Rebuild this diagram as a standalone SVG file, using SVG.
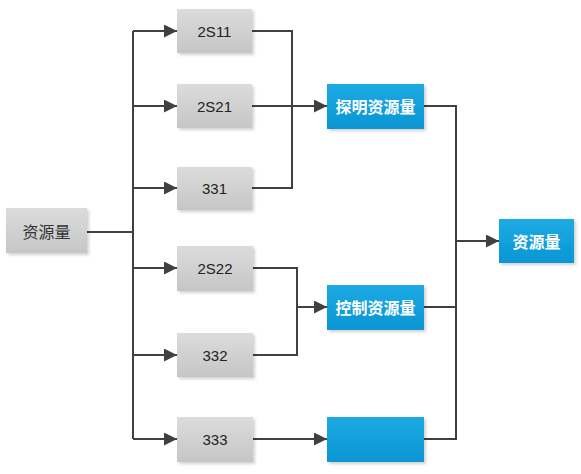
<svg xmlns="http://www.w3.org/2000/svg" width="581" height="474" viewBox="0 0 581 474">
<defs>
<linearGradient id="g" x1="0" y1="0" x2="0" y2="1"><stop offset="0" stop-color="#dcdcdc"/><stop offset="1" stop-color="#c6c6c6"/></linearGradient>
<linearGradient id="b" x1="0" y1="0" x2="0" y2="1"><stop offset="0" stop-color="#1eaae3"/><stop offset="1" stop-color="#0896d4"/></linearGradient>
<filter id="s" x="-10%" y="-10%" width="130%" height="130%"><feDropShadow dx="2" dy="2" stdDeviation="1.5" flood-color="#000" flood-opacity="0.18"/></filter>
<marker id="a" viewBox="0 0 10 10" refX="10" refY="5" markerWidth="6.5" markerHeight="6.5" orient="auto" markerUnits="strokeWidth"><path d="M0,0 L10,5 L0,10 z" fill="#404040"/></marker>
</defs>
<style>
.gray{fill:url(#g);filter:url(#s)}
.blue{fill:url(#b);filter:url(#s)}
.t{font-family:"Liberation Sans","Noto Sans",sans-serif;font-size:15px;fill:#222;text-anchor:middle;dominant-baseline:central}
.c{font-family:"Noto Sans CJK SC",sans-serif;font-size:16px;text-anchor:middle;dominant-baseline:central}
.cw{fill:#fff;font-weight:bold}
.cg{fill:#333}
.l{fill:none;stroke:#404040;stroke-width:2}
.ar{marker-end:url(#a)}
</style>
<rect width="581" height="474" fill="#fff"/>
<g id="connectors">
<path class="l" d="M87,232 H133 M133,31 V439"/>
<path class="l ar" d="M133,31 H177"/>
<path class="l ar" d="M133,106 H177"/>
<path class="l ar" d="M133,188 H177"/>
<path class="l ar" d="M133,268 H177"/>
<path class="l ar" d="M133,355 H177"/>
<path class="l ar" d="M133,439 H177"/>
<path class="l" d="M252,31 H292 V188 H252"/>
<path class="l ar" d="M252,106 H327"/>
<path class="l" d="M253,268 H297 V355 H253"/>
<path class="l ar" d="M297,307 H327"/>
<path class="l ar" d="M253,439 H327"/>
<path class="l" d="M424,106 H456 V439 H424 M424,307 H456"/>
<path class="l ar" d="M456,241 H499"/>
</g>
<g id="n_src"><rect class="gray" x="6" y="208" width="81" height="45"/><text class="c cg" x="46.5" y="231">资源量</text></g>
<g id="n_2S11"><rect class="gray" x="177" y="9" width="75" height="44"/><text class="t" x="214.5" y="31">2S11</text></g>
<g id="n_2S21"><rect class="gray" x="177" y="84" width="75" height="44"/><text class="t" x="214.5" y="106">2S21</text></g>
<g id="n_331"><rect class="gray" x="177" y="167" width="75" height="43"/><text class="t" x="214.5" y="188">331</text></g>
<g id="n_2S22"><rect class="gray" x="177" y="246" width="76" height="45"/><text class="t" x="215" y="268">2S22</text></g>
<g id="n_332"><rect class="gray" x="177" y="333" width="76" height="44"/><text class="t" x="215" y="355">332</text></g>
<g id="n_333"><rect class="gray" x="177" y="417" width="76" height="45"/><text class="t" x="215" y="439">333</text></g>
<g id="n_tanming"><rect class="blue" x="327" y="84" width="97" height="45"/><text class="c cw" x="375.5" y="106">探明资源量</text></g>
<g id="n_kongzhi"><rect class="blue" x="327" y="285" width="97" height="45"/><text class="c cw" x="375.5" y="307">控制资源量</text></g>
<g id="n_blank"><rect class="blue" x="327" y="417" width="97" height="45"/></g>
<g id="n_total"><rect class="blue" x="499" y="219" width="75" height="44"/><text class="c cw" x="536.5" y="241">资源量</text></g>
</svg>
